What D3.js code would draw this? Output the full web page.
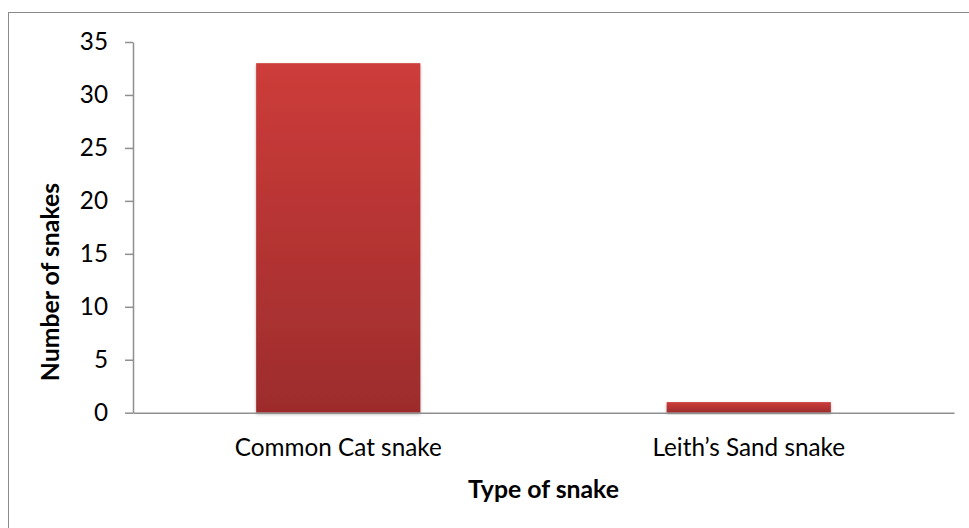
<!DOCTYPE html>
<html><head><meta charset="utf-8">
<script src="https://cdn.jsdelivr.net/npm/d3@7"></script>
<style>html,body{margin:0;padding:0;background:#fff;}</style>
</head><body>
<script>
const categories = ["Common Cat snake", "Leith\u2019s Sand snake"];
const values = [33, 1];
const yTicks = [0, 5, 10, 15, 20, 25, 30, 35];
const xTitle = "Type of snake";
const yTitle = "Number of snakes";

const W = 969, H = 528;
const m = {left: 133, right: 954, top: 42, bottom: 412.7};
const font = "Lato, 'Open Sans', sans-serif";

const svg = d3.select("body").append("svg").attr("width", W).attr("height", H);
const defs = svg.append("defs");
const grad = defs.append("linearGradient").attr("id","barGrad").attr("x1",0).attr("y1",0).attr("x2",0).attr("y2",1);
grad.append("stop").attr("offset","0%").attr("stop-color","#cd3c3a");
grad.append("stop").attr("offset","100%").attr("stop-color","#9d2c2c");
const filt = defs.append("filter").attr("id","shadow").attr("x","-10%").attr("y","-10%").attr("width","120%").attr("height","130%");
filt.append("feDropShadow").attr("dx",0).attr("dy",1.5).attr("stdDeviation",1.8).attr("flood-color","#000").attr("flood-opacity",0.3);

// outer border
svg.append("rect").attr("x",8.5).attr("y",12.5).attr("width",W).attr("height",H)
  .attr("fill","none").attr("stroke","#8a8a8a").attr("stroke-width",1);

const x = d3.scaleBand().domain(categories).range([m.left, m.right]).paddingInner(0.6).paddingOuter(0.3);
const y = d3.scaleLinear().domain([0, 35]).range([m.bottom, m.top]);

// bars
svg.append("g").selectAll("rect").data(categories).join("rect")
  .attr("x", d => x(d)).attr("width", x.bandwidth())
  .attr("y", (d,i) => y(values[i])).attr("height", (d,i) => y(0) - y(values[i]))
  .attr("fill","url(#barGrad)").attr("filter","url(#shadow)");

// y axis
const yAxis = svg.append("g").attr("transform",`translate(${m.left},0)`)
  .call(d3.axisLeft(y).tickValues(yTicks).tickSize(8).tickPadding(17).tickSizeOuter(0));
yAxis.select(".domain").attr("stroke","#8f8f8f").attr("stroke-width",1.5);
yAxis.selectAll(".tick line").attr("stroke","#8f8f8f").attr("stroke-width",1.5);
yAxis.selectAll(".tick text").attr("font-family",font).attr("font-size",24.3).attr("fill","#000");

// x axis
const xAxis = svg.append("g").attr("transform",`translate(0,${m.bottom})`)
  .call(d3.axisBottom(x).tickSize(0).tickPadding(26).tickSizeOuter(0));
xAxis.select(".domain").attr("stroke","#8f8f8f").attr("stroke-width",1.5);
xAxis.selectAll(".tick text").attr("font-family",font).attr("font-size",24.3).attr("fill","#000");

// titles
svg.append("text").attr("x",(m.left+m.right)/2).attr("y",498)
  .attr("text-anchor","middle").attr("font-family",font).attr("font-weight","bold")
  .attr("font-size",24.8).text(xTitle);
svg.append("text").attr("transform","translate(59,282) rotate(-90)")
  .attr("text-anchor","middle").attr("font-family",font).attr("font-weight","bold")
  .attr("font-size",24.8).text(yTitle);
</script>
</body></html>
